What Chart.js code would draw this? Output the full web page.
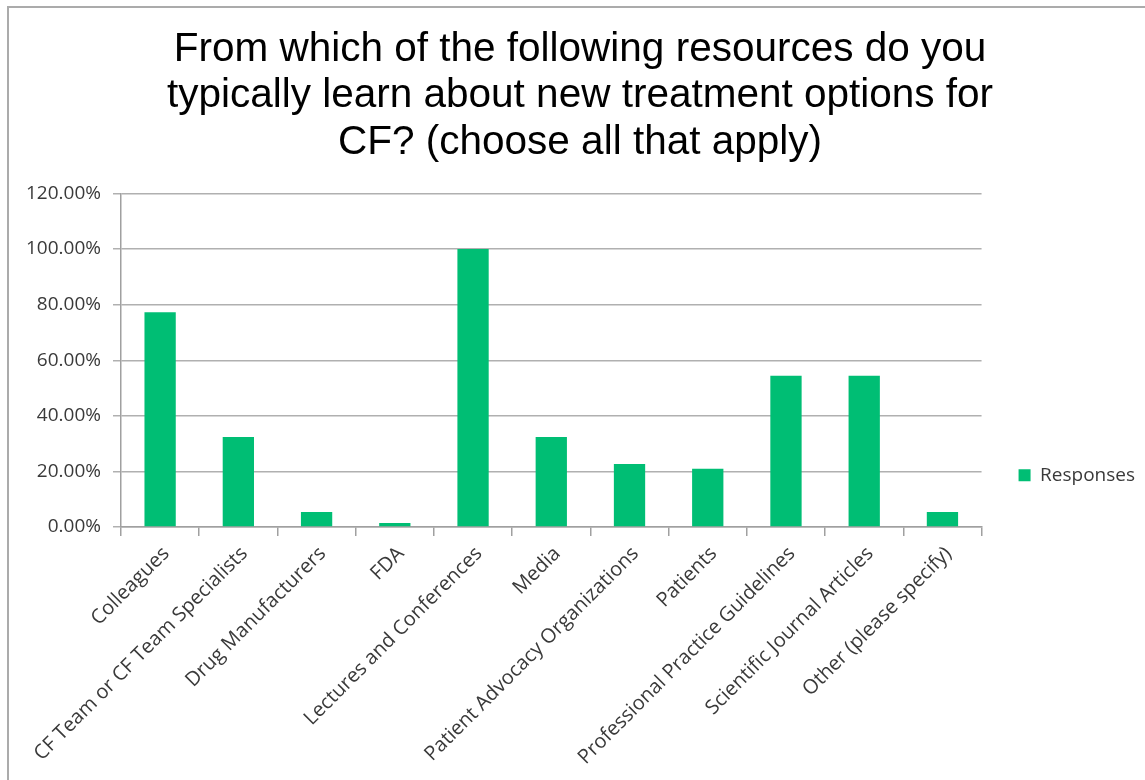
<!DOCTYPE html>
<html><head><meta charset="utf-8">
<script src="https://cdn.jsdelivr.net/npm/chart.js@4.4.1/dist/chart.umd.min.js"></script>
<style>
html,body{margin:0;padding:0;background:#fff;overflow:hidden;}
#frame{position:absolute;left:7px;top:6px;width:1145px;height:780px;border-left:2px solid #ababab;border-top:2px solid #ababab;}
#wrap{position:absolute;left:0;top:0;width:1145px;height:780px;}
</style></head><body>
<div id="frame"></div>
<div id="wrap"><canvas id="c" width="1145" height="780"></canvas></div>
<script>
const titleLines = [
  "From which of the following resources do you",
  "typically learn about new treatment options for",
  "CF? (choose all that apply)"
];
const categories = [
  "Colleagues",
  "CF Team or CF Team Specialists",
  "Drug Manufacturers",
  "FDA",
  "Lectures and Conferences",
  "Media",
  "Patient Advocacy Organizations",
  "Patients",
  "Professional Practice Guidelines",
  "Scientific Journal Articles",
  "Other (please specify)"
];
const seriesName = "Responses";
const responses = [77.3, 32.4, 5.4, 1.4, 100, 32.4, 22.7, 21.0, 54.4, 54.4, 5.4];
const yMin = 0, yMax = 120, yStep = 20;

const labelFont = "'Open Sans', Lato, sans-serif";
const green = "#00BE74";

new Chart(document.getElementById('c'), {
  type: 'bar',
  data: {
    labels: categories,
    datasets: [{
      label: seriesName,
      data: responses,
      backgroundColor: green,
      borderWidth: 0,
      barPercentage: 0.4,
      categoryPercentage: 1.0
    }]
  },
  options: {
    responsive: false,
    animation: false,
    layout: { padding: { left: 15, right: 0, top: 0, bottom: 0 } },
    plugins: {
      tooltip: { enabled: false },
      title: {
        display: true,
        text: titleLines,
        color: '#000',
        font: { family: "'Liberation Sans', Arial, sans-serif", size: 40.5, weight: 'normal', lineHeight: 1.14 },
        padding: { top: 27, bottom: 28 }
      },
      legend: {
        display: true,
        position: 'right',
        title: { display: true, text: ' ', font: { size: 12 }, padding: { top: 0, bottom: 156 } },
        labels: {
          boxWidth: 12, boxHeight: 12,
          color: '#3a3a3a',
          font: { family: labelFont, size: 19 },
          padding: 37
        }
      }
    },
    scales: {
      y: {
        min: yMin, max: yMax,
        ticks: {
          stepSize: yStep,
          callback: v => v.toFixed(2) + '%',
          color: '#3a3a3a',
          font: { family: labelFont, size: 19 },
          padding: 12
        },
        grid: { color: '#b0b0b0', lineWidth: 1.5, tickLength: 8 },
        border: { color: '#a0a0a0', width: 1.5 },
        afterFit: s => { s.width = 106; }
      },
      x: {
        ticks: {
          maxRotation: 45, minRotation: 45, autoSkip: false,
          color: '#3a3a3a',
          font: { family: labelFont, size: 20 },
          padding: 6,
          labelOffset: 6
        },
        grid: { drawOnChartArea: false, tickLength: 9, color: '#a0a0a0', lineWidth: 1.5, offset: true },
        border: { color: '#a0a0a0', width: 1.5 },
        afterFit: s => { s.height = 253; }
      }
    }
  }
});
</script>
</body></html>
